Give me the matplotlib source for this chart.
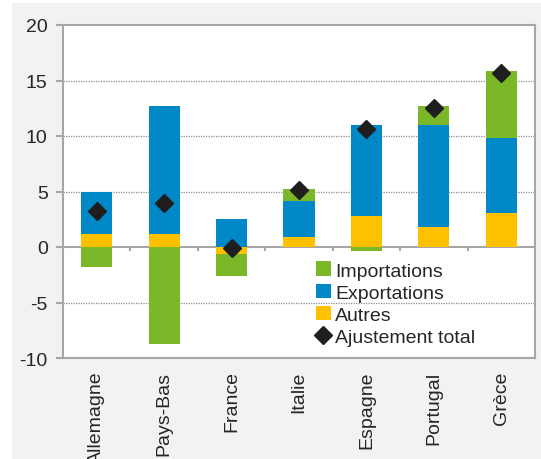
import matplotlib.pyplot as plt
from matplotlib.patches import Rectangle
import numpy as np

plt.rcParams['font.family'] = ['Liberation Sans', 'DejaVu Sans']

# data
pays = ['Allemagne', 'Pays-Bas', 'France', 'Italie', 'Espagne', 'Portugal', 'Grèce']
autres = [1.2, 1.2, -0.6, 0.9, 2.8, 1.8, 3.05]
exportations = [3.8, 11.5, 2.5, 3.25, 8.2, 9.2, 6.75]
importations = [-1.8, -8.7, -2.0, 1.05, -0.4, 1.7, 6.05]
total = [3.2, 4.0, -0.1, 5.1, 10.6, 12.5, 15.7]

green = '#7ab829'
blue = '#0088c7'
yellow = '#ffc000'
grey = '#a6a6a6'

fig = plt.figure(figsize=(5.41, 4.60), dpi=100, facecolor='white')
# light grey panel behind the chart
fig.patches.append(Rectangle((12 / 541, 0), 1, 1 - 4 / 460, transform=fig.transFigure,
                             facecolor='#f3f1f1', edgecolor='none', zorder=-5))
ax = fig.add_axes([63 / 541, 1 - 359 / 460, (535 - 63) / 541, (359 - 26) / 460])
ax.set_facecolor('white')

x = np.arange(len(pays))
w = 0.46
pos = np.zeros(len(pays))
neg = np.zeros(len(pays))
handles = {}
for vals, col, lab in [(autres, yellow, 'Autres'),
                       (exportations, blue, 'Exportations'),
                       (importations, green, 'Importations')]:
    v = np.array(vals)
    bottom = np.where(v >= 0, pos, neg)
    handles[lab] = ax.bar(x, v, w, bottom=bottom, color=col, zorder=3)
    pos = pos + np.where(v >= 0, v, 0)
    neg = neg + np.where(v < 0, v, 0)

handles['Ajustement total'], = ax.plot(x, total, 'D', color='#1e1e1e', markersize=9,
                                       linestyle='none', zorder=4)

ax.set_xlim(-0.5, 6.5)
ax.set_ylim(-10, 20)
ax.set_yticks([-10, -5, 0, 5, 10, 15, 20])
ax.set_yticklabels(['-10', '-5', '0', '5', '10', '15', '20'])
for yy in [-5, 5, 10, 15]:
    ax.axhline(yy, color='#8c8c8c', linestyle=(0, (1, 1)), linewidth=0.9, zorder=1)
ax.axhline(0, color=grey, linewidth=1.5, zorder=2)
# small ticks on the zero line between categories
ax.vlines(np.arange(0.5, 6.5, 1), -0.4, 0, color=grey, linewidth=1.5, zorder=2)

ax.set_xticks(x)
ax.set_xticklabels(pays, rotation=90, va='top', ha='center')
ax.tick_params(axis='x', length=0, pad=9, labelsize=14, labelcolor='#262626')
ax.tick_params(axis='y', length=5, width=1.5, color=grey, pad=6, labelsize=14,
               labelcolor='#262626')
for s in ax.spines.values():
    s.set_color(grey)
    s.set_linewidth(1.5)

order = ['Importations', 'Exportations', 'Autres', 'Ajustement total']
leg = ax.legend([handles[k] for k in order], order, loc='upper left',
                bbox_to_anchor=(0.535, 0.29), frameon=False, fontsize=14,
                handlelength=0.8, handleheight=0.8, handletextpad=0.2,
                labelspacing=0.2, borderpad=0, borderaxespad=0)
for t in leg.get_texts():
    t.set_color('#262626')

plt.savefig('out.png', dpi=100, facecolor=fig.get_facecolor())
